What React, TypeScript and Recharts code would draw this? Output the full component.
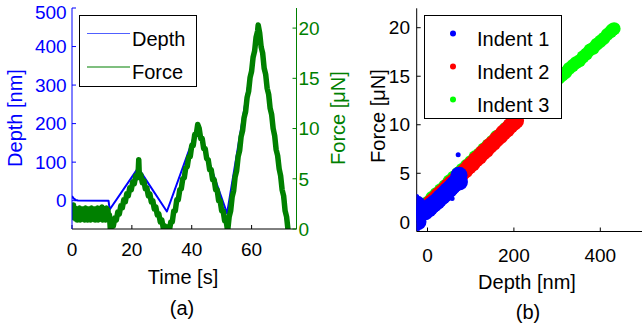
import React from 'react';
import { ComposedChart, ScatterChart, Line, Scatter, XAxis, YAxis, Legend } from 'recharts';

const FONT = '"Liberation Sans", Arial, Helvetica, sans-serif';
const BLUE = '#0000ff';
const DGREEN = '#008000';

// ---------- Panel (a): depth & force vs time ----------
const timeTicks = [0, 20, 40, 60];
const depthTicks = [0, 100, 200, 300, 400, 500];
const forceTicks = [0, 5, 10, 15, 20];

const depthTime = [0, 0.5, 1.2, 2.0, 12.2, 12.6, 22.1, 31.7, 41.8, 51.8, 62.1, 71.9];
const depthNm = [12, 6, 2, 0.5, 0, -23, 85, -28, 189, -33, 452, -74];

const forceTime = [
  0, 0.25, 0.5, 0.75, 1, 1.25, 1.5, 1.75, 2, 2.25, 2.5, 2.75, 3, 3.25, 3.5, 3.75, 4, 4.25, 4.5, 4.75,
  5, 5.25, 5.5, 5.75, 6, 6.25, 6.5, 6.75, 7, 7.25, 7.5, 7.75, 8, 8.25, 8.5, 8.75, 9, 9.25, 9.5, 9.75,
  10, 10.25, 10.5, 10.75, 11, 11.25, 11.5, 11.75, 12, 12.25, 12.5, 12.8,
  13.3, 13.8, 14.3, 14.8, 15.3, 15.8, 16.3, 16.8, 17.3, 17.8, 18.3, 18.8, 19.3, 19.8, 20.3, 20.8, 21.3, 21.8, 22.1, 22.3, 22.5,
  23.0, 23.5, 24.0, 24.5, 25.0, 25.5, 26.0, 26.5, 27.0, 27.5, 28.0, 28.5, 29.0, 29.5, 30.0, 30.5, 31.0, 31.5, 32.0, 32.5,
  33.0, 33.5, 34.0, 34.5, 35.0, 35.5, 36.0, 36.5, 37.0, 37.5, 38.0, 38.5, 39.0, 39.5, 40.0, 40.5, 41.0, 41.5, 42.0,
  42.5, 43.0, 43.5, 44.0, 44.5, 45.0, 45.5, 46.0, 46.5, 47.0, 47.5, 48.0, 48.5, 49.0, 49.5, 50.0, 50.5, 51.0, 51.5, 52.0,
  52.5, 53.0, 53.5, 54.0, 54.5, 55.0, 55.5, 56.0, 56.5, 57.0, 57.5, 58.0, 58.5, 59.0, 59.5, 60.0, 60.5, 61.0, 61.5, 62.0, 62.2,
  62.7, 63.2, 63.7, 64.2, 64.7, 65.2, 65.7, 66.2, 66.7, 67.2, 67.7, 68.2, 68.7, 69.2, 69.7, 70.2, 70.7, 71.2, 71.7, 72.2,
];
const forceUN = [
  2.5, 1.4, 2.4, 1.1, 2.1, 1.0, 2.0, 0.9, 1.9, 1.1, 2.1, 0.9, 1.9, 1.0, 2.0, 1.1, 1.9, 0.9, 2.1, 1.1,
  1.9, 0.9, 2.0, 1.0, 1.9, 0.9, 2.1, 1.0, 1.9, 1.1, 2.0, 0.9, 1.9, 1.1, 2.1, 0.9, 1.9, 1.0, 2.0, 1.1,
  2.2, 0.9, 1.9, 1.0, 2.0, 0.9, 2.1, 1.0, 1.9, 1.1, 1.4, 0.0,
  0.5, 0.3, 1.1, 0.9, 1.7, 1.5, 2.3, 2.1, 2.9, 2.7, 3.5, 3.3, 4.1, 3.9, 4.7, 4.5, 5.3, 5.1, 5.6, 6.9, 5.2,
  5.4, 4.6, 4.8, 4.0, 4.1, 3.3, 3.5, 2.7, 2.8, 2.0, 2.2, 1.4, 1.5, 0.7, 0.9, 0.1, 0.3, -0.2, 0.2, -0.2,
  0.7, 0.7, 1.8, 1.8, 2.9, 2.9, 3.9, 4.0, 5.0, 5.1, 6.1, 6.2, 7.2, 7.2, 8.3, 8.3, 9.4, 9.4, 10.4,
  10.0, 9.0, 9.0, 8.0, 8.0, 7.0, 6.9, 5.9, 5.9, 4.9, 4.9, 3.9, 3.9, 2.8, 2.8, 1.8, 1.8, 0.8, 0.8, -0.2,
  1.2, 1.8, 3.2, 3.8, 5.2, 5.8, 7.2, 7.8, 9.2, 9.8, 11.1, 11.7, 13.1, 13.7, 15.1, 15.7, 17.1, 17.7, 19.1, 19.7, 20.3,
  19.5, 18.1, 17.5, 16.0, 15.4, 14.0, 13.4, 12.0, 11.4, 10.0, 9.3, 7.9, 7.3, 6.0, 5.3, 3.9, 3.3, 1.8, 1.2, -0.2,
];
const seriesNamesA = ['Depth', 'Force'];

// ---------- Panel (b): force vs depth ----------
const depthTicksB = [0, 200, 400];
const forceTicksB = [0, 5, 10, 15, 20];
const seriesNamesB = ['Indent 1', 'Indent 2', 'Indent 3'];

const indent1Depth = [-24, -24, -24, -22, -22, -20, -18, -14, -10, -6, -2, 2, 6, 10, 14, 18, 22, 26, 30, 34, 38, 42, 46, 50, 54, 58, 62, 66, 68, 70, 72, 73, 74];
const indent1Force = [0.2, 1.0, 1.8, 0.0, 1.4, 0.6, 1.5, 0.9, 1.2, 1.0, 1.3, 1.3, 1.5, 1.7, 1.8, 2.0, 2.1, 2.3, 2.5, 2.6, 2.8, 3.0, 3.2, 3.3, 3.5, 3.7, 3.9, 4.0, 4.1, 4.2, 4.4, 4.8, 4.1];
const indent1StrayDepth = [71, 57, -22, -25];
const indent1StrayForce = [6.9, 2.4, -0.7, 2.6];

const indent2Depth = [0, 8, 16, 24, 32, 40, 48, 56, 64, 72, 80, 88, 96, 104, 112, 120, 128, 136, 144, 152, 160, 168, 176, 184, 192, 200, 205];
const indent2Force = [1.6, 2.0, 2.3, 2.7, 3.0, 3.3, 3.7, 4.0, 4.3, 4.7, 5.0, 5.3, 5.7, 6.0, 6.4, 6.7, 7.1, 7.4, 7.8, 8.1, 8.5, 8.8, 9.2, 9.5, 9.9, 10.2, 10.4];

const indent3Depth = [0, 10, 20, 30, 40, 50, 60, 70, 80, 90, 100, 110, 120, 130, 140, 150, 160, 170, 180, 190, 200, 208, 216, 224, 232, 240, 248, 256, 264, 272, 280, 288, 296, 304, 312, 320, 328, 336, 344, 352, 360, 368, 376, 384, 392, 400, 408, 416, 424, 428, 432];
const indent3Force = [2.0, 2.5, 2.9, 3.3, 3.7, 4.2, 4.6, 5.0, 5.4, 5.8, 6.2, 6.7, 7.0, 7.5, 7.9, 8.3, 8.8, 9.1, 9.6, 10.0, 10.4, 10.8, 11.3, 11.5, 12.0, 12.2, 12.6, 12.9, 13.2, 13.5, 13.8, 14.1, 14.5, 14.8, 15.1, 15.4, 15.8, 16.1, 16.4, 16.6, 17.0, 17.3, 17.7, 17.9, 18.3, 18.6, 18.9, 19.3, 19.6, 19.8, 19.9];

const depthData = depthTime.map((t, i) => ({ t, v: depthNm[i] }));
const forceData = forceTime.map((t, i) => ({ t, v: forceUN[i] }));
const toPts = (ds: number[], fs: number[]) => ds.map((d, i) => ({ d, f: fs[i] }));
const ind1 = toPts(indent1Depth, indent1Force);
const ind1s = toPts(indent1StrayDepth, indent1StrayForce);
const ind2 = toPts(indent2Depth, indent2Force);
const ind3 = toPts(indent3Depth, indent3Force);

const tickFont = (fill: string) => ({ fill, fontSize: 19, fontFamily: FONT });

// left depth tick: the top label sits a little lower so it stays inside the figure
const DepthTick = (p: any) => (
  <text x={p.x} y={p.y + (p.payload.value === depthTicks[depthTicks.length - 1] ? 4.5 : 0)} dy="0.355em"
    textAnchor="end" fill={BLUE} fontSize={19} fontFamily={FONT}>{p.payload.value}</text>
);

const dotShape = (color: string, r: number) => (props: any) => (
  <circle cx={props.cx} cy={props.cy} r={r} fill={color} stroke="none" />
);

const LegendA = () => {
  const colors = ['#5060ff', DGREEN];
  return (
    <div style={{ width: 118, height: 72, boxSizing: 'border-box', border: '1px solid #000', background: '#fff' }}>
      <svg width={116} height={70} style={{ display: 'block' }}>
        {seriesNamesA.map((n, i) => (
          <g key={n}>
            <line x1={7} x2={50} y1={17.5 + i * 33.5} y2={17.5 + i * 33.5} stroke={colors[i]} strokeWidth={1.2} />
            <text x={52} y={22.5 + i * 33.5} fontSize={20} fontFamily={FONT} fill="#000" dominantBaseline="central">{n}</text>
          </g>
        ))}
      </svg>
    </div>
  );
};

const LegendB = () => {
  const colors = [BLUE, '#ff0000', '#00ff00'];
  return (
    <div style={{ width: 138, height: 104, boxSizing: 'border-box', border: '1px solid #000', background: '#fff' }}>
      <svg width={136} height={102} style={{ display: 'block' }}>
        {seriesNamesB.map((n, i) => (
          <g key={n}>
            <circle cx={28} cy={17.5 + i * 33} r={3} fill={colors[i]} />
            <text x={52} y={22.5 + i * 33} fontSize={20} fontFamily={FONT} fill="#000" dominantBaseline="central">{n}</text>
          </g>
        ))}
      </svg>
    </div>
  );
};

export default function App() {
  return (
    <div style={{ position: 'absolute', left: 0, top: 0, width: 642, height: 324, overflow: 'hidden', background: '#fff' }}>
      <div style={{ position: 'absolute', left: 0, top: 0 }}>
        <ComposedChart width={330} height={324} margin={{ top: 8, right: 3.5, bottom: 65, left: 12 }}>
          <XAxis xAxisId="b" type="number" dataKey="t" domain={[0, 75]} ticks={timeTicks} interval={0} allowDataOverflow
            orientation="bottom" height={30} stroke="#000" tickSize={-4} tickMargin={18} tick={tickFont('#000')} />
          <XAxis xAxisId="t" type="number" dataKey="t" domain={[0, 75]} ticks={timeTicks} interval={0} allowDataOverflow
            orientation="top" height={0} stroke="#000" tickSize={-4} tick={false} />
          <YAxis yAxisId="d" type="number" domain={[-73.5, 500]} ticks={depthTicks} interval={0} allowDataOverflow
            orientation="left" width={60} stroke={BLUE} tickSize={-4} tickMargin={9.3} tick={<DepthTick />} />
          <YAxis yAxisId="dm" type="number" domain={[-73.5, 500]} ticks={depthTicks} interval={0} allowDataOverflow
            orientation="right" width={0} stroke={BLUE} axisLine={false} tickSize={-4} tick={false} />
          <YAxis yAxisId="f" type="number" domain={[0, 22]} ticks={forceTicks} interval={0} allowDataOverflow
            orientation="right" width={30} stroke={DGREEN} tickSize={-4} tickMargin={6} tick={tickFont(DGREEN)} />
          <Line xAxisId="b" yAxisId="d" data={depthData} dataKey="v" name="Depth" stroke={BLUE} strokeWidth={2}
            dot={false} isAnimationActive={false} strokeLinejoin="round" />
          <Line xAxisId="b" yAxisId="f" data={forceData} dataKey="v" name="Force" stroke={DGREEN} strokeWidth={5.5}
            dot={false} isAnimationActive={false} strokeLinejoin="round" />
          <Legend layout="horizontal" verticalAlign="middle" align="center" content={() => <LegendA />}
            wrapperStyle={{ left: 79, top: 15, width: 118, height: 72 }} />
        </ComposedChart>
      </div>
      <div style={{ position: 'absolute', left: 330, top: 0 }}>
        <ScatterChart width={316} height={324} margin={{ top: 8.3, right: 2.5, bottom: 62.5, left: 26.7 }}>
          <XAxis xAxisId="b" type="number" dataKey="d" domain={[-25, 500]} ticks={depthTicksB} interval={0} allowDataOverflow
            orientation="bottom" height={30} stroke="#000" tickSize={-4} tickMargin={20.6} tick={tickFont('#000')} />
          <XAxis xAxisId="t" type="number" dataKey="d" domain={[-25, 500]} ticks={depthTicksB} interval={0} allowDataOverflow
            orientation="top" height={0} stroke="#000" tickSize={-4} tick={false} />
          <YAxis yAxisId="l" type="number" dataKey="f" domain={[-1, 22]} ticks={forceTicksB} interval={0} allowDataOverflow
            orientation="left" width={60} stroke="#000" tickSize={-4} tickMargin={10.7} tick={tickFont('#000')} />
          <YAxis yAxisId="r" type="number" dataKey="f" domain={[-1, 22]} ticks={forceTicksB} interval={0} allowDataOverflow
            orientation="right" width={0} stroke="#000" tickSize={-4} tick={false} />
          <Scatter xAxisId="b" yAxisId="l" name="Indent 3" data={ind3} fill="#00ff00" shape={dotShape('#00ff00', 6.5)} isAnimationActive={false} />
          <Scatter xAxisId="b" yAxisId="l" name="Indent 2" data={ind2} fill="#ff0000" shape={dotShape('#ff0000', 8)} isAnimationActive={false} />
          <Scatter xAxisId="b" yAxisId="l" name="Indent 1" data={ind1} fill={BLUE} shape={dotShape(BLUE, 8.5)} isAnimationActive={false} />
          <Scatter xAxisId="b" yAxisId="l" name="Indent 1 stray" data={ind1s} fill={BLUE} shape={dotShape(BLUE, 2.5)} isAnimationActive={false} />
          <Legend layout="horizontal" verticalAlign="middle" align="center" content={() => <LegendB />}
            wrapperStyle={{ left: 94.3, top: 15, width: 138, height: 104 }} />
        </ScatterChart>
      </div>
      <svg width={642} height={324} style={{ position: 'absolute', left: 0, top: 0, pointerEvents: 'none' }}
        fontFamily={FONT} fontSize={20} textAnchor="middle" dominantBaseline="central">
        <text x={15} y={118} fill={BLUE} transform="rotate(-90 15 118)">Depth [nm]</text>
        <text x={338} y={118} fill={DGREEN} transform="rotate(-90 338 118)">Force [μN]</text>
        <text x={183} y={277} fill="#000">Time [s]</text>
        <text x={182} y={308} fill="#000">(a)</text>
        <text x={378} y={116} fill="#000" transform="rotate(-90 378 116)">Force [μN]</text>
        <text x={527} y={282} fill="#000">Depth [nm]</text>
        <text x={528} y={311.5} fill="#000">(b)</text>
      </svg>
    </div>
  );
}
